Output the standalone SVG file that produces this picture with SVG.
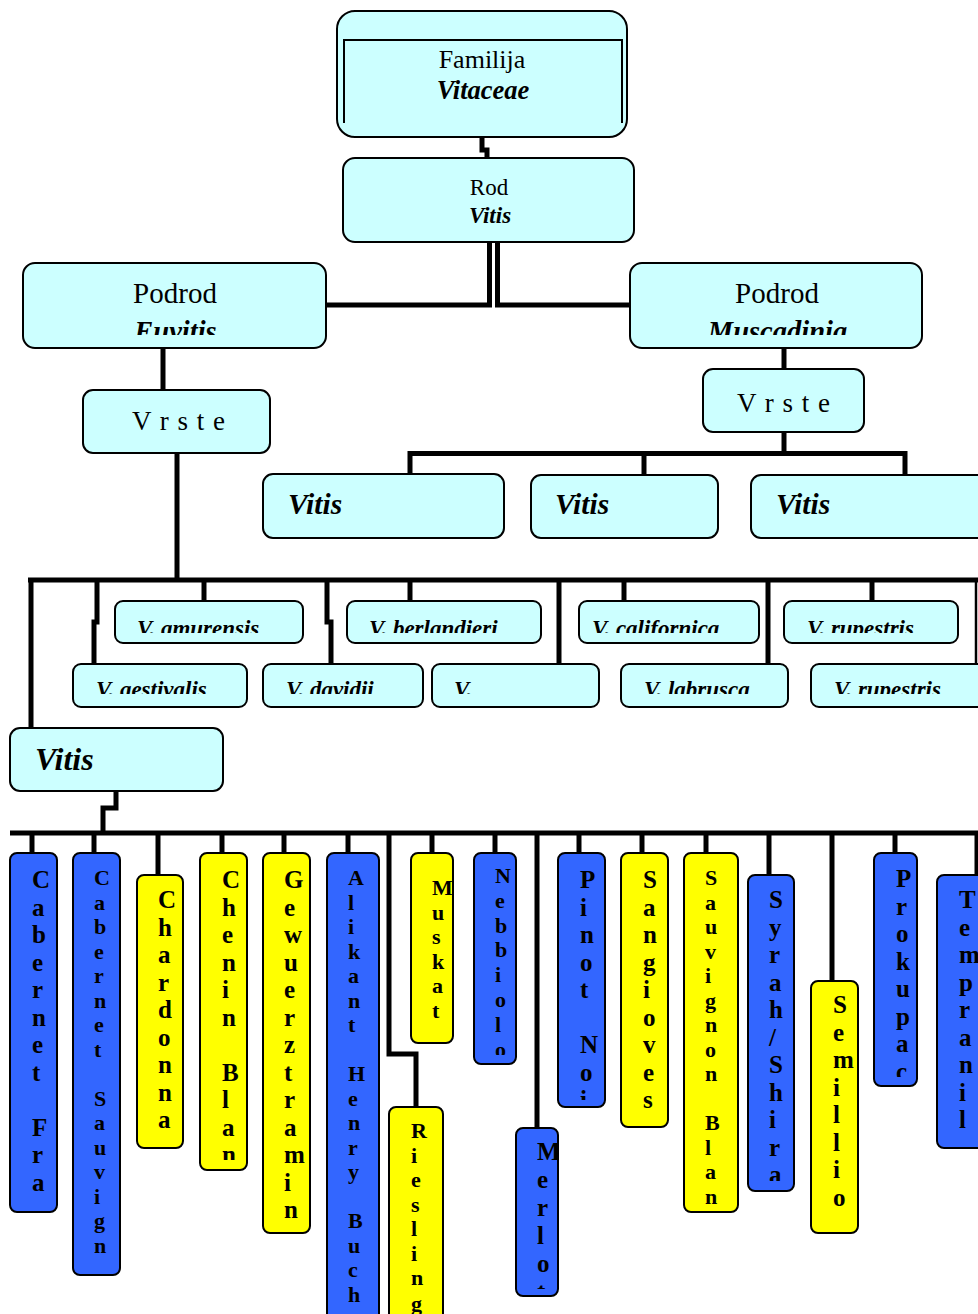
<svg xmlns="http://www.w3.org/2000/svg" width="978" height="1314" viewBox="0 0 978 1314">
<style>
.cy{fill:#CCFFFF;stroke:#000;stroke-width:2}
.bl{fill:#3366FF;stroke:#000;stroke-width:2}
.ye{fill:#FFFF00;stroke:#000;stroke-width:2}
.con{fill:none;stroke:#000;stroke-width:5}
.thin{fill:none;stroke:#000;stroke-width:2.5}
.t{font-family:"Liberation Serif","Times New Roman",serif;fill:#000}
.bi{font-weight:bold;font-style:italic}
.v25{font-family:"Liberation Serif","Times New Roman",serif;font-weight:bold;font-size:25px;fill:#000}
.v22{font-family:"Liberation Serif","Times New Roman",serif;font-weight:bold;font-size:22px;fill:#000}
.sp{font-family:"Liberation Serif","Times New Roman",serif;font-weight:bold;font-style:italic;font-size:23px;fill:#000}
</style>
<defs>
<clipPath id="cEu"><rect x="23" y="263" width="303" height="72"/></clipPath>
<clipPath id="cMu"><rect x="630" y="263" width="292" height="72"/></clipPath>
<clipPath id="cU"><rect x="0" y="601" width="978" height="32"/></clipPath>
<clipPath id="cL"><rect x="0" y="664" width="978" height="30"/></clipPath>
<clipPath id="c1"><rect x="10" y="853" width="47" height="351"/></clipPath>
<clipPath id="c2"><rect x="73" y="853" width="47" height="414"/></clipPath>
<clipPath id="c3"><rect x="137" y="875" width="46" height="265"/></clipPath>
<clipPath id="c4"><rect x="200" y="853" width="47" height="307"/></clipPath>
<clipPath id="c5"><rect x="263" y="853" width="47" height="372"/></clipPath>
<clipPath id="c6"><rect x="327" y="853" width="52" height="470"/></clipPath>
<clipPath id="c7"><rect x="389" y="1107" width="54" height="220"/></clipPath>
<clipPath id="c8"><rect x="411" y="853" width="42" height="182"/></clipPath>
<clipPath id="c9"><rect x="474" y="853" width="42" height="202"/></clipPath>
<clipPath id="c10"><rect x="516" y="1128" width="42" height="161"/></clipPath>
<clipPath id="c11"><rect x="558" y="853" width="47" height="247"/></clipPath>
<clipPath id="c12"><rect x="621" y="853" width="47" height="266"/></clipPath>
<clipPath id="c13"><rect x="684" y="853" width="54" height="351"/></clipPath>
<clipPath id="c14"><rect x="748" y="875" width="46" height="306"/></clipPath>
<clipPath id="c15"><rect x="811" y="981" width="47" height="244"/></clipPath>
<clipPath id="c16"><rect x="874" y="853" width="43" height="224"/></clipPath>
<clipPath id="c17"><rect x="937" y="875" width="60" height="265"/></clipPath>
</defs>

<g id="connectors">
<path class="con" stroke-width="4" d="M482 137 V150 H487 V158"/>
<path class="con" d="M489.5 243 V305 H326"/>
<path class="con" d="M497.5 243 V305 H631"/>
<path class="con" d="M163 348 V390"/>
<path class="con" d="M784 348 V369"/>
<path class="con" d="M784 432 V453.5"/>
<path class="con" d="M410 474 V453.5 H905 V474"/>
<path class="con" d="M644 453.5 V474"/>
<path class="con" d="M177 453 V580"/>
<path class="con" d="M28 580 H978"/>
<path class="con" d="M31 580 V728"/>
<path class="con" d="M97 580 V622 H94 V664"/>
<path class="con" d="M204 580 V601"/>
<path class="con" d="M327 580 V622 H331 V664"/>
<path class="con" d="M410 580 V601"/>
<path class="con" d="M559 580 V664"/>
<path class="con" d="M624 580 V601"/>
<path class="con" d="M768 580 V664"/>
<path class="con" d="M872 580 V601"/>
<path class="thin" d="M976 580 V665"/>
<path class="con" d="M116 791 V808 H103 V833"/>
<path class="con" d="M10 833 H978"/>
<path class="con" d="M32 833 V853"/>
<path class="con" d="M94 833 V853"/>
<path class="con" d="M158 833 V875"/>
<path class="con" d="M222 833 V853"/>
<path class="con" d="M284 833 V853"/>
<path class="con" d="M348 833 V853"/>
<path class="con" d="M389 833 V1054 H416 V1107"/>
<path class="con" d="M432 833 V853"/>
<path class="con" d="M495 833 V853"/>
<path class="con" d="M537 833 V1128"/>
<path class="con" d="M579 833 V853"/>
<path class="con" d="M642 833 V853"/>
<path class="con" d="M706 833 V853"/>
<path class="con" d="M769 833 V875"/>
<path class="con" d="M832 833 V981"/>
<path class="con" d="M895 833 V853"/>
<path class="con" d="M977 833 V875"/>
</g>

<g id="familija">
<rect class="cy" x="337" y="11" width="290" height="126" rx="18"/>
<path fill="none" stroke="#000" stroke-width="2" d="M344 123 V40 H622 V123"/>
<text class="t" x="482" y="68" font-size="26" text-anchor="middle">Familija</text>
<text class="t bi" x="483" y="99" font-size="26.5" text-anchor="middle">Vitaceae</text>
</g>

<g id="rod">
<rect class="cy" x="343" y="158" width="291" height="84" rx="12"/>
<text class="t" x="489" y="195" font-size="23" text-anchor="middle">Rod</text>
<text class="t bi" x="490" y="223" font-size="23" text-anchor="middle">Vitis</text>
</g>

<g id="euvitis">
<rect class="cy" x="23" y="263" width="303" height="85" rx="12"/>
<text class="t" x="175" y="303" font-size="29" text-anchor="middle">Podrod</text>
<text class="t bi" x="175.5" y="341" font-size="28.5" text-anchor="middle" clip-path="url(#cEu)">Euvitis</text>
</g>

<g id="muscadinia">
<rect class="cy" x="630" y="263" width="292" height="85" rx="12"/>
<text class="t" x="777" y="303" font-size="29" text-anchor="middle">Podrod</text>
<text class="t bi" x="777.5" y="341" font-size="28.5" text-anchor="middle" clip-path="url(#cMu)">Muscadinia</text>
</g>

<g id="vrste-euvitis">
<rect class="cy" x="83" y="390" width="187" height="63" rx="10"/>
<text class="t" x="132" y="430" font-size="27" letter-spacing="1">V r s t e</text>
</g>

<g id="vrste-muscadinia">
<rect class="cy" x="703" y="369" width="161" height="63" rx="10"/>
<text class="t" x="737" y="412" font-size="27" letter-spacing="1">V r s t e</text>
</g>

<g id="vitis-m1">
<rect class="cy" x="263" y="474" width="241" height="64" rx="10"/>
<text class="t bi" x="288" y="514" font-size="29.5">Vitis</text>
</g>
<g id="vitis-m2">
<rect class="cy" x="531" y="475" width="187" height="63" rx="10"/>
<text class="t bi" x="555" y="514" font-size="29.5">Vitis</text>
</g>
<g id="vitis-m3">
<rect class="cy" x="751" y="475" width="250" height="63" rx="10"/>
<text class="t bi" x="776" y="514" font-size="29.5">Vitis</text>
</g>

<g id="amurensis">
<rect class="cy" x="115" y="601" width="188" height="42" rx="8"/>
<text class="sp" x="137" y="636" clip-path="url(#cU)">V. amurensis</text>
</g>
<g id="berlandieri">
<rect class="cy" x="347" y="601" width="194" height="42" rx="8"/>
<text class="sp" x="369" y="636" clip-path="url(#cU)">V. berlandieri</text>
</g>
<g id="californica">
<rect class="cy" x="579" y="601" width="180" height="42" rx="8"/>
<text class="sp" x="592" y="636" clip-path="url(#cU)">V. californica</text>
</g>
<g id="rupestris1">
<rect class="cy" x="784" y="601" width="174" height="42" rx="8"/>
<text class="sp" x="807" y="636" clip-path="url(#cU)">V. rupestris</text>
</g>
<g id="aestivalis">
<rect class="cy" x="73" y="664" width="174" height="43" rx="8"/>
<text class="sp" x="96" y="697" clip-path="url(#cL)">V. aestivalis</text>
</g>
<g id="davidii">
<rect class="cy" x="263" y="664" width="160" height="43" rx="8"/>
<text class="sp" x="286" y="697" clip-path="url(#cL)">V. davidii</text>
</g>
<g id="v-blank">
<rect class="cy" x="432" y="664" width="167" height="43" rx="8"/>
<text class="sp" x="454" y="697" clip-path="url(#cL)">V.</text>
</g>
<g id="labrusca">
<rect class="cy" x="621" y="664" width="167" height="43" rx="8"/>
<text class="sp" x="644" y="697" clip-path="url(#cL)">V. labrusca</text>
</g>
<g id="rupestris2">
<rect class="cy" x="811" y="664" width="190" height="43" rx="8"/>
<text class="sp" x="834" y="697" clip-path="url(#cL)">V. rupestris</text>
</g>

<g id="vitis-euvitis">
<rect class="cy" x="10" y="728" width="213" height="63" rx="10"/>
<text class="t bi" x="35" y="770" font-size="32">Vitis</text>
</g>

<g id="cabernet-franc">
<rect class="bl" x="10" y="853" width="47" height="359" rx="7"/>
<text class="v25" clip-path="url(#c1)"><tspan x="32" y="888">C</tspan><tspan x="32" y="915.5">a</tspan><tspan x="32" y="943">b</tspan><tspan x="32" y="970.5">e</tspan><tspan x="32" y="998">r</tspan><tspan x="32" y="1025.5">n</tspan><tspan x="32" y="1053">e</tspan><tspan x="32" y="1080.5">t </tspan><tspan x="32" y="1135.5">F</tspan><tspan x="32" y="1163">r</tspan><tspan x="32" y="1190.5">a</tspan></text>
</g>
<g id="cabernet-sauvignon">
<rect class="bl" x="73" y="853" width="47" height="422" rx="7"/>
<text class="v22" clip-path="url(#c2)"><tspan x="94" y="885">C</tspan><tspan x="94" y="909.5">a</tspan><tspan x="94" y="934">b</tspan><tspan x="94" y="958.5">e</tspan><tspan x="94" y="983">r</tspan><tspan x="94" y="1007.5">n</tspan><tspan x="94" y="1032">e</tspan><tspan x="94" y="1056.5">t </tspan><tspan x="94" y="1105.5">S</tspan><tspan x="94" y="1130">a</tspan><tspan x="94" y="1154.5">u</tspan><tspan x="94" y="1179">v</tspan><tspan x="94" y="1203.5">i</tspan><tspan x="94" y="1228">g</tspan><tspan x="94" y="1252.5">n</tspan></text>
</g>
<g id="chardonnay">
<rect class="ye" x="137" y="875" width="46" height="273" rx="7"/>
<text class="v25" clip-path="url(#c3)"><tspan x="158" y="908">C</tspan><tspan x="158" y="935.5">h</tspan><tspan x="158" y="963">a</tspan><tspan x="158" y="990.5">r</tspan><tspan x="158" y="1018">d</tspan><tspan x="158" y="1045.5">o</tspan><tspan x="158" y="1073">n</tspan><tspan x="158" y="1100.5">n</tspan><tspan x="158" y="1128">a</tspan></text>
</g>
<g id="chenin-blanc">
<rect class="ye" x="200" y="853" width="47" height="317" rx="7"/>
<text class="v25" clip-path="url(#c4)"><tspan x="222" y="888">C</tspan><tspan x="222" y="915.5">h</tspan><tspan x="222" y="943">e</tspan><tspan x="222" y="970.5">n</tspan><tspan x="222" y="998">i</tspan><tspan x="222" y="1025.5">n </tspan><tspan x="222" y="1080.5">B</tspan><tspan x="222" y="1108">l</tspan><tspan x="222" y="1135.5">a</tspan><tspan x="222" y="1163">n</tspan></text>
</g>
<g id="gewuerztraminer">
<rect class="ye" x="263" y="853" width="47" height="380" rx="7"/>
<text class="v25" clip-path="url(#c5)"><tspan x="284" y="888">G</tspan><tspan x="284" y="915.5">e</tspan><tspan x="284" y="943">w</tspan><tspan x="284" y="970.5">u</tspan><tspan x="284" y="998">e</tspan><tspan x="284" y="1025.5">r</tspan><tspan x="284" y="1053">z</tspan><tspan x="284" y="1080.5">t</tspan><tspan x="284" y="1108">r</tspan><tspan x="284" y="1135.5">a</tspan><tspan x="284" y="1163">m</tspan><tspan x="284" y="1190.5">i</tspan><tspan x="284" y="1218">n</tspan></text>
</g>
<g id="alikant">
<rect class="bl" x="327" y="853" width="52" height="480" rx="7"/>
<text class="v22" clip-path="url(#c6)"><tspan x="348" y="885">A</tspan><tspan x="348" y="909.5">l</tspan><tspan x="348" y="934">i</tspan><tspan x="348" y="958.5">k</tspan><tspan x="348" y="983">a</tspan><tspan x="348" y="1007.5">n</tspan><tspan x="348" y="1032">t </tspan><tspan x="348" y="1081">H</tspan><tspan x="348" y="1105.5">e</tspan><tspan x="348" y="1130">n</tspan><tspan x="348" y="1154.5">r</tspan><tspan x="348" y="1179">y </tspan><tspan x="348" y="1228">B</tspan><tspan x="348" y="1252.5">u</tspan><tspan x="348" y="1277">c</tspan><tspan x="348" y="1301.5">h</tspan></text>
</g>
<g id="riesling">
<rect class="ye" x="389" y="1107" width="54" height="230" rx="7"/>
<text class="v22" clip-path="url(#c7)"><tspan x="411" y="1138">R</tspan><tspan x="411" y="1162.5">i</tspan><tspan x="411" y="1187">e</tspan><tspan x="411" y="1211.5">s</tspan><tspan x="411" y="1236">l</tspan><tspan x="411" y="1260.5">i</tspan><tspan x="411" y="1285">n</tspan><tspan x="411" y="1311">g</tspan></text>
</g>
<g id="muskat">
<rect class="ye" x="411" y="853" width="42" height="190" rx="7"/>
<text class="v22" clip-path="url(#c8)"><tspan x="432" y="895">M</tspan><tspan x="432" y="919.5">u</tspan><tspan x="432" y="944">s</tspan><tspan x="432" y="968.5">k</tspan><tspan x="432" y="993">a</tspan><tspan x="432" y="1017.5">t</tspan></text>
</g>
<g id="nebbiolo">
<rect class="bl" x="474" y="853" width="42" height="211" rx="7"/>
<text class="v22" clip-path="url(#c9)"><tspan x="495" y="883">N</tspan><tspan x="495" y="907.8">e</tspan><tspan x="495" y="932.6">b</tspan><tspan x="495" y="957.4">b</tspan><tspan x="495" y="982.2">i</tspan><tspan x="495" y="1007">o</tspan><tspan x="495" y="1031.8">l</tspan><tspan x="495" y="1056.6">o</tspan></text>
</g>
<g id="merlot">
<rect class="bl" x="516" y="1128" width="42" height="168" rx="7"/>
<text class="v25" clip-path="url(#c10)"><tspan x="537" y="1160">M</tspan><tspan x="537" y="1188">e</tspan><tspan x="537" y="1216">r</tspan><tspan x="537" y="1244">l</tspan><tspan x="537" y="1272">o</tspan><tspan x="537" y="1300">t</tspan></text>
</g>
<g id="pinot-noir">
<rect class="bl" x="558" y="853" width="47" height="254" rx="7"/>
<text class="v25" clip-path="url(#c11)"><tspan x="580" y="888">P</tspan><tspan x="580" y="915.5">i</tspan><tspan x="580" y="943">n</tspan><tspan x="580" y="970.5">o</tspan><tspan x="580" y="998">t </tspan><tspan x="580" y="1053">N</tspan><tspan x="580" y="1080.5">o</tspan><tspan x="580" y="1108">i</tspan></text>
</g>
<g id="sangiovese">
<rect class="ye" x="621" y="853" width="47" height="274" rx="7"/>
<text class="v25" clip-path="url(#c12)"><tspan x="643" y="888">S</tspan><tspan x="643" y="915.5">a</tspan><tspan x="643" y="943">n</tspan><tspan x="643" y="970.5">g</tspan><tspan x="643" y="998">i</tspan><tspan x="643" y="1025.5">o</tspan><tspan x="643" y="1053">v</tspan><tspan x="643" y="1080.5">e</tspan><tspan x="643" y="1108">s</tspan></text>
</g>
<g id="sauvignon-blanc">
<rect class="ye" x="684" y="853" width="54" height="359" rx="7"/>
<text class="v22" clip-path="url(#c13)"><tspan x="705" y="885">S</tspan><tspan x="705" y="909.5">a</tspan><tspan x="705" y="934">u</tspan><tspan x="705" y="958.5">v</tspan><tspan x="705" y="983">i</tspan><tspan x="705" y="1007.5">g</tspan><tspan x="705" y="1032">n</tspan><tspan x="705" y="1056.5">o</tspan><tspan x="705" y="1081">n </tspan><tspan x="705" y="1130">B</tspan><tspan x="705" y="1154.5">l</tspan><tspan x="705" y="1179">a</tspan><tspan x="705" y="1203.5">n</tspan></text>
</g>
<g id="syrah">
<rect class="bl" x="748" y="875" width="46" height="316" rx="7"/>
<text class="v25" clip-path="url(#c14)"><tspan x="769" y="908">S</tspan><tspan x="769" y="935.5">y</tspan><tspan x="769" y="963">r</tspan><tspan x="769" y="990.5">a</tspan><tspan x="769" y="1018">h</tspan><tspan x="769" y="1045.5">/</tspan><tspan x="769" y="1073">S</tspan><tspan x="769" y="1100.5">h</tspan><tspan x="769" y="1128">i</tspan><tspan x="769" y="1155.5">r</tspan><tspan x="769" y="1183">a</tspan></text>
</g>
<g id="semillon">
<rect class="ye" x="811" y="981" width="47" height="252" rx="7"/>
<text class="v25" clip-path="url(#c15)"><tspan x="833" y="1013">S</tspan><tspan x="833" y="1040.5">e</tspan><tspan x="833" y="1068">m</tspan><tspan x="833" y="1095.5">i</tspan><tspan x="833" y="1123">l</tspan><tspan x="833" y="1150.5">l</tspan><tspan x="833" y="1178">i</tspan><tspan x="833" y="1205.5">o</tspan></text>
</g>
<g id="prokupac">
<rect class="bl" x="874" y="853" width="43" height="233" rx="7"/>
<text class="v25" clip-path="url(#c16)"><tspan x="896" y="887">P</tspan><tspan x="896" y="914.5">r</tspan><tspan x="896" y="942">o</tspan><tspan x="896" y="969.5">k</tspan><tspan x="896" y="997">u</tspan><tspan x="896" y="1024.5">p</tspan><tspan x="896" y="1052">a</tspan><tspan x="896" y="1079.5">c</tspan></text>
</g>
<g id="tempranillo">
<rect class="bl" x="937" y="875" width="60" height="273" rx="7"/>
<text class="v25" clip-path="url(#c17)"><tspan x="959" y="908">T</tspan><tspan x="959" y="935.5">e</tspan><tspan x="959" y="963">m</tspan><tspan x="959" y="990.5">p</tspan><tspan x="959" y="1018">r</tspan><tspan x="959" y="1045.5">a</tspan><tspan x="959" y="1073">n</tspan><tspan x="959" y="1100.5">i</tspan><tspan x="959" y="1128">l</tspan></text>
</g>
</svg>
